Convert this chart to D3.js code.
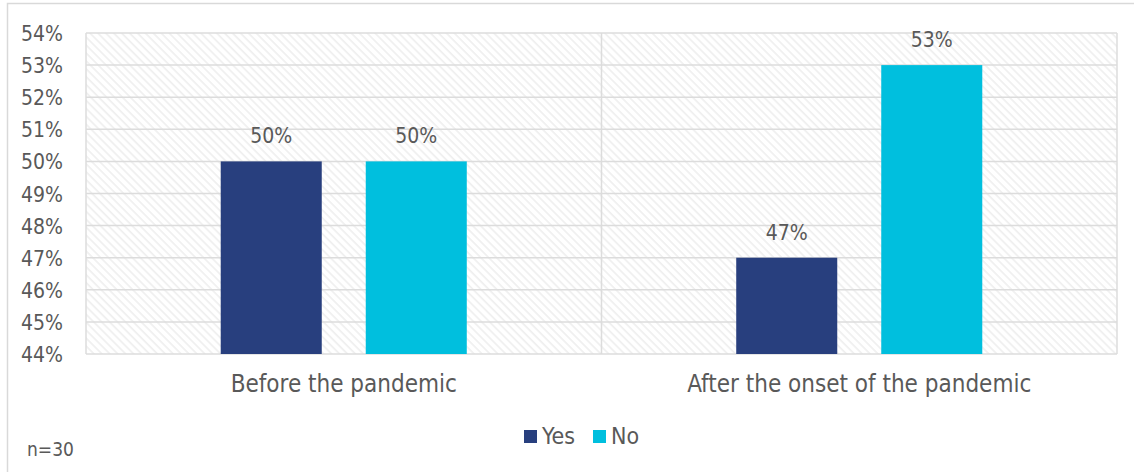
<!DOCTYPE html>
<html>
<head>
<meta charset="utf-8">
<script src="https://cdn.jsdelivr.net/npm/d3@7"></script>
<style>
  html, body { margin: 0; padding: 0; background: #fff; }
  svg text { font-family: "DejaVu Sans Condensed", "DejaVu Sans", sans-serif; fill: #595959; }
</style>
</head>
<body>
<div id="container"></div>
<script>
const categories = ["Before the pandemic", "After the onset of the pandemic"];
const seriesNames = ["Yes", "No"];
const yesValues = [50, 47];
const noValues = [50, 53];
const yTicks = [44, 45, 46, 47, 48, 49, 50, 51, 52, 53, 54];
const colors = ["#283F7E", "#00BFDE"];
const note = "n=30";

const widthSVG = 1134,
    heightSVG = 472,
    plotLeft = 86,
    plotRight = 1117,
    plotTop = 33,
    plotBottom = 354;

const rows = categories.map((c, i) => ({
    category: c,
    values: [yesValues[i], noValues[i]]
}));

const svg = d3.select('#container')
    .append('svg')
    .attr('width', widthSVG)
    .attr('height', heightSVG);

// diagonal hatch used for the plot background
const defs = svg.append('defs');
defs.append('pattern')
    .attr('id', 'hatch')
    .attr('patternUnits', 'userSpaceOnUse')
    .attr('width', 5.6)
    .attr('height', 5.6)
    .attr('patternTransform', 'rotate(-45)')
    .append('line')
    .attr('x1', 1).attr('y1', 0)
    .attr('x2', 1).attr('y2', 5.6)
    .attr('stroke', '#e8e8e8')
    .attr('stroke-width', 1.2);

// outer frame (only top and left edges show)
svg.append('rect')
    .attr('x', 7.5)
    .attr('y', 3.5)
    .attr('width', 1200)
    .attr('height', 600)
    .attr('fill', 'none')
    .attr('stroke', '#d9d9d9')
    .attr('stroke-width', 1.5);

const yScale = d3.scaleLinear()
    .domain([44, 54])
    .range([plotBottom, plotTop]);

const x0 = d3.scaleBand()
    .domain(categories)
    .range([plotLeft, plotRight]);

const x1 = d3.scaleBand()
    .domain(seriesNames)
    .range([0, x0.bandwidth()])
    .paddingInner(0.3034)
    .paddingOuter(0.929);

svg.append('rect')
    .attr('x', plotLeft)
    .attr('y', plotTop)
    .attr('width', plotRight - plotLeft)
    .attr('height', plotBottom - plotTop)
    .attr('fill', 'url(#hatch)');

// gridlines
svg.append('g')
    .selectAll('line')
    .data(yTicks)
    .enter()
    .append('line')
    .attr('x1', plotLeft)
    .attr('x2', plotRight)
    .attr('y1', d => yScale(d))
    .attr('y2', d => yScale(d))
    .attr('stroke', '#dcdcdc')
    .attr('stroke-width', 1.5);

// category separators + plot edges
const seps = [plotLeft].concat(categories.map(c => x0(c) + x0.bandwidth()));
svg.append('g')
    .selectAll('line')
    .data(seps)
    .enter()
    .append('line')
    .attr('x1', d => d)
    .attr('x2', d => d)
    .attr('y1', plotTop)
    .attr('y2', plotBottom)
    .attr('stroke', '#dcdcdc')
    .attr('stroke-width', 1.5);

// y axis labels
const yAxis = svg.append('g')
    .attr('transform', `translate(${plotLeft - 23},0)`)
    .call(d3.axisLeft(yScale).tickValues(yTicks).tickSize(0).tickPadding(0).tickFormat(d => d + '%'));
yAxis.select('.domain').remove();
yAxis.selectAll('text')
    .attr('font-size', 21)
    .attr('font-family', null)
    .attr('fill', '#595959')
    .attr('dy', '0.36em');

// bars
const groups = svg.append('g')
    .selectAll('g')
    .data(rows)
    .enter()
    .append('g')
    .attr('transform', d => `translate(${x0(d.category)},0)`);

const barData = d => d.values.map((v, i) => ({ name: seriesNames[i], value: v, color: colors[i] }));

groups.selectAll('rect')
    .data(barData)
    .enter()
    .append('rect')
    .attr('x', d => x1(d.name))
    .attr('y', d => yScale(d.value))
    .attr('width', x1.bandwidth())
    .attr('height', d => plotBottom - yScale(d.value))
    .attr('fill', d => d.color);

groups.selectAll('text.val')
    .data(barData)
    .enter()
    .append('text')
    .attr('class', 'val')
    .attr('x', d => x1(d.name) + x1.bandwidth() / 2)
    .attr('y', d => yScale(d.value) - 18)
    .attr('text-anchor', 'middle')
    .attr('font-size', 21)
    .text(d => d.value + '%');

// category labels
svg.append('g')
    .selectAll('text')
    .data(categories)
    .enter()
    .append('text')
    .attr('x', d => x0(d) + x0.bandwidth() / 2)
    .attr('y', 392)
    .attr('text-anchor', 'middle')
    .attr('font-size', 24)
    .text(d => d);

// legend
const legendX = [524, 593];
const legend = svg.append('g')
    .selectAll('g')
    .data(seriesNames)
    .enter()
    .append('g')
    .attr('transform', (d, i) => `translate(${legendX[i]},430)`);

legend.append('rect')
    .attr('width', 13)
    .attr('height', 13)
    .attr('fill', (d, i) => colors[i]);

legend.append('text')
    .attr('x', 18)
    .attr('y', 14)
    .attr('font-size', 23)
    .text(d => d);

svg.append('text')
    .attr('x', 27)
    .attr('y', 456)
    .attr('font-size', 19)
    .text(note);
</script>
</body>
</html>
